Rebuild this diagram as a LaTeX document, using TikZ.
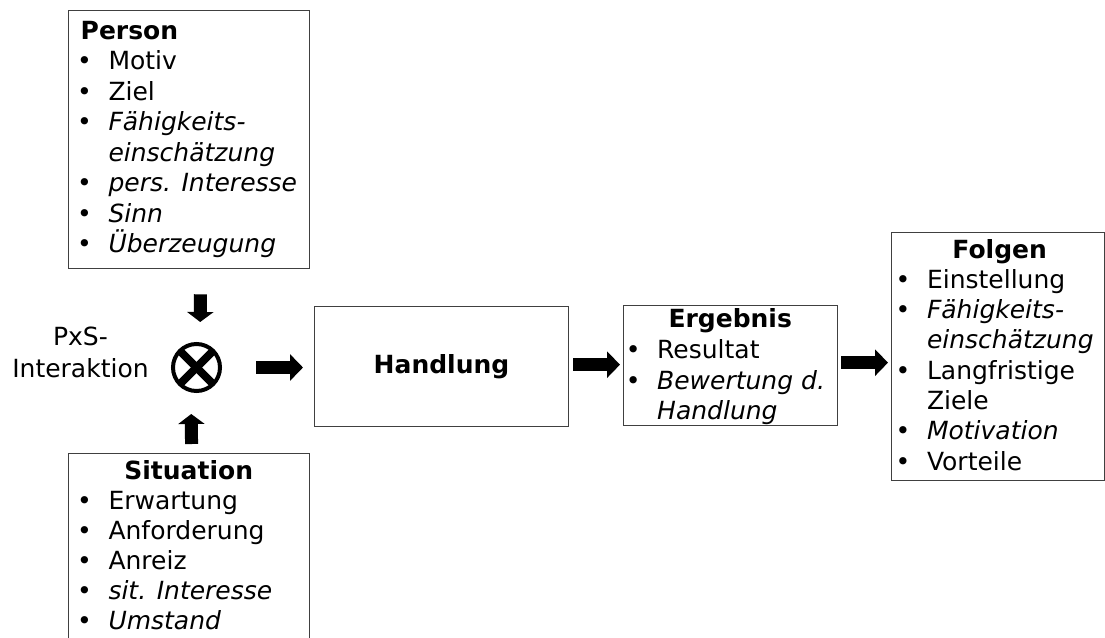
\documentclass[tikz,border=0pt]{standalone}
\usepackage{fontspec}
\setmainfont{DejaVu Sans}[BoldFont={DejaVu Sans Bold},ItalicFont={DejaVu Sans Oblique},BoldItalicFont={DejaVu Sans Bold Oblique}]
\usetikzlibrary{arrows.meta}
\newcommand{\bx}[1]{\noindent\hbox to 27.8pt{\hskip-3.5pt\textbullet\hfil}#1\par}
\newcommand{\bc}[1]{\noindent\hbox to 27.8pt{\hfil}#1\par}
\newcommand{\bt}[2]{\noindent\hbox to #1{\hfil\textbf{#2}\hfil}\par}
\newcommand{\boxtext}[2]{\parbox[t]{260pt}{\fontsize{25}{#1}\selectfont\parindent0pt\parskip0pt #2}}
\tikzset{
  box/.style={draw=black!75, line width=1.3pt, fill=white, inner sep=0pt, anchor=north west},
  txt/.style={inner sep=0pt, anchor=base west},
  harrow/.style={line width=13pt, -{Triangle[length=13pt,width=26pt]}},
  varrow/.style={line width=13pt, -{Triangle[length=10pt,width=26pt]}},
}
\begin{document}
\begin{tikzpicture}[x=1pt,y=-1pt]
\useasboundingbox (0,0) rectangle (1105,637);
% boxes
\node[box, minimum width=241pt, minimum height=258pt] (person) at (68,10) {};
\node[box, minimum width=241pt, minimum height=200pt] (situation) at (68,453) {};
\node[box, minimum width=254pt, minimum height=120pt] (handlung) at (314,306) {};
\node[box, minimum width=214pt, minimum height=120pt] (ergebnis) at (623,305) {};
\node[box, minimum width=213pt, minimum height=248pt] (folgen) at (891,232) {};
% texts
\node[txt] (persontxt) at (80.5,39) {\boxtext{30.5pt}{%
  \noindent\textbf{Person}\par
  \bx{Motiv}
  \bx{Ziel}
  \bx{\textit{Fähigkeits-}}
  \bc{\textit{einschätzung}}
  \bx{\textit{pers. Interesse}}
  \bx{\textit{Sinn}}
  \bx{\textit{Überzeugung}}}};
\node[txt] (situationtxt) at (80.5,479) {\boxtext{30pt}{%
  \bt{216pt}{Situation}
  \bx{Erwartung}
  \bx{Anforderung}
  \bx{Anreiz}
  \bx{\textit{sit. Interesse}}
  \bx{\textit{Umstand}}}};
\node[inner sep=0pt, anchor=base] (handlungtxt) at (441.5,373) {\fontsize{25}{30}\selectfont\textbf{Handlung}};
\node[txt] (ergebnistxt) at (629.2,327.5) {\boxtext{30.8pt}{%
  \bt{201.6pt}{Ergebnis}
  \bx{Resultat}
  \bx{\textit{Bewertung d.}}
  \bc{\textit{Handlung}}}};
\node[txt] (folgentxt) at (899,258) {\boxtext{30.3pt}{%
  \bt{201pt}{Folgen}
  \bx{Einstellung}
  \bx{\textit{Fähigkeits-}}
  \bc{\textit{einschätzung}}
  \bx{Langfristige}
  \bc{Ziele}
  \bx{\textit{Motivation}}
  \bx{Vorteile}}};
% PxS label
\node[inner sep=0pt, anchor=base] (pxs1) at (80.5,345) {\fontsize{25}{30}\selectfont PxS-};
\node[inner sep=0pt, anchor=base] (pxs2) at (80.5,377.5) {\fontsize{25}{30}\selectfont Interaktion};
% interaction symbol
\node[circle, draw=black, line width=4pt, minimum size=47pt, inner sep=0pt,
  path picture={\draw[line width=8pt] (path picture bounding box.north west) -- (path picture bounding box.south east);
                \draw[line width=8pt] (path picture bounding box.north east) -- (path picture bounding box.south west);}]
  (cx) at (196.5,367.5) {};
% arrows
\draw[varrow, shorten <=25pt, shorten >=20pt] ([xshift=11.5pt]person.south) -- ([xshift=3.5pt]cx.north);
\draw[varrow, shorten <=9pt, shorten >=21pt] ([xshift=2.5pt]situation.north) -- ([xshift=-5.5pt]cx.south);
\draw[harrow, shorten <=34pt, shorten >=11pt] (cx.east) -- (cx.east -| handlung.west);
\draw[harrow, shorten <=4pt, shorten >=3pt] ([yshift=2pt]handlung.east) -- ([yshift=2pt]handlung.east -| ergebnis.west);
\draw[harrow, shorten <=3pt, shorten >=3pt] ([yshift=3pt]ergebnis.east) -- ([yshift=3pt]ergebnis.east -| folgen.west);
\end{tikzpicture}
\end{document}
